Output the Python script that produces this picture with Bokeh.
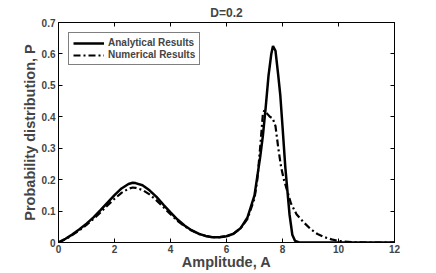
from bokeh.plotting import figure
from bokeh.models import LinearAxis, Legend, LegendItem, FixedTicker, Range1d, Title
from bokeh.embed import file_html
from bokeh.resources import INLINE

# Analytical results
a_x = [0, 0.25, 0.5, 0.75, 1, 1.25, 1.5, 1.75, 2, 2.25, 2.5, 2.65, 2.75, 3, 3.25, 3.5, 3.75, 4,
       4.25, 4.5, 4.75, 5, 5.25, 5.5, 5.75, 6, 6.25, 6.5, 6.75, 7.0, 7.2, 7.3, 7.4, 7.5, 7.6,
       7.66, 7.75, 7.85, 7.92, 8.0, 8.1, 8.15, 8.25, 8.35, 8.45, 8.6, 9, 10, 11, 12]
a_y = [0, 0.012, 0.026, 0.042, 0.06, 0.08, 0.103, 0.127, 0.151, 0.172, 0.186, 0.19, 0.189, 0.182,
       0.166, 0.145, 0.12, 0.096, 0.073, 0.054, 0.039, 0.028, 0.021, 0.017, 0.017, 0.02, 0.028,
       0.045, 0.08, 0.15, 0.27, 0.34, 0.43, 0.53, 0.6, 0.625, 0.61, 0.53, 0.47, 0.37, 0.24, 0.19,
       0.09, 0.025, 0.005, 0, 0, 0, 0, 0]

# Numerical results
n_x = [0, 0.25, 0.5, 0.75, 1, 1.25, 1.5, 1.75, 2, 2.25, 2.5, 2.65, 2.75, 3, 3.25, 3.5, 3.75, 4,
       4.25, 4.5, 4.75, 5, 5.25, 5.5, 5.75, 6, 6.25, 6.5, 6.75, 7.0, 7.1, 7.2, 7.3, 7.35, 7.45,
       7.55, 7.65, 7.75, 7.85, 7.95, 8.05, 8.15, 8.3, 8.5, 8.75, 9, 9.25, 9.5, 9.75, 10, 10.5,
       11, 12]
n_y = [0, 0.011, 0.024, 0.039, 0.056, 0.075, 0.096, 0.118, 0.139, 0.158, 0.171, 0.175, 0.174,
       0.167, 0.153, 0.134, 0.112, 0.09, 0.069, 0.052, 0.038, 0.028, 0.021, 0.017, 0.017, 0.02,
       0.028, 0.045, 0.075, 0.14, 0.2, 0.3, 0.41, 0.42, 0.41, 0.4, 0.395, 0.37, 0.3, 0.24, 0.2,
       0.17, 0.125, 0.09, 0.065, 0.043, 0.027, 0.017, 0.01, 0.005, 0.001, 0, 0]

x_ticks = [0, 2, 4, 6, 8, 10, 12]
y_ticks = [0, 0.1, 0.2, 0.3, 0.4, 0.5, 0.6, 0.7]

FONT = "Liberation Sans"

p = figure(frame_width=336, frame_height=220, output_backend="svg", toolbar_location=None,
           x_range=Range1d(0, 12), y_range=Range1d(0, 0.7),
           min_border_left=58, min_border_right=20, min_border_top=22, min_border_bottom=5)
p.title = Title(text="D=0.2", align="center", text_font=FONT, text_font_style="bold",
                text_font_size="12px", offset=0, standoff=5)
p.grid.visible = False
p.outline_line_color = "black"
p.outline_line_width = 1
p.background_fill_color = "white"
p.border_fill_color = "white"

for ax in [p.xaxis[0], p.yaxis[0]]:
    ax.major_tick_in = 4
    ax.major_tick_out = 0
    ax.minor_tick_in = 0
    ax.minor_tick_out = 0
    ax.major_label_text_font = FONT
    ax.major_label_text_font_style = "bold"
    ax.major_label_text_font_size = "10px"
    ax.axis_label_text_font = FONT
    ax.axis_label_text_font_style = "bold"
    ax.axis_label_text_font_size = "14.5px"
    ax.axis_line_color = "black"
    ax.major_label_standoff = 3
    ax.axis_label_standoff = 1

p.xaxis[0].major_label_standoff = 2
p.xaxis[0].axis_label_standoff = -2

p.xaxis[0].ticker = FixedTicker(ticks=x_ticks)
p.yaxis[0].ticker = FixedTicker(ticks=y_ticks)
p.xaxis[0].axis_label = "Amplitude, A"
p.yaxis[0].axis_label = "Probability distribution, P"
p.xaxis[0].major_label_overrides = {t: str(t) for t in x_ticks}
p.yaxis[0].major_label_overrides = {t: ("0" if t == 0 else f"{t:.1f}") for t in y_ticks}

top_ax = LinearAxis(ticker=FixedTicker(ticks=x_ticks), major_label_text_color=None,
                    major_tick_in=4, major_tick_out=0, minor_tick_in=0, minor_tick_out=0,
                    major_label_standoff=0, major_label_text_font_size="1px")
right_ax = LinearAxis(ticker=FixedTicker(ticks=y_ticks), major_label_text_color=None,
                      major_tick_in=4, major_tick_out=0, minor_tick_in=0, minor_tick_out=0,
                      major_label_standoff=0, major_label_text_font_size="1px")
p.add_layout(top_ax, "above")
p.add_layout(right_ax, "right")

r1 = p.line(a_x, a_y, line_color="black", line_width=2.5)
r2 = p.line(n_x, n_y, line_color="black", line_width=2.2, line_dash="7 3 2 3")

legend = Legend(items=[LegendItem(label="Analytical Results", renderers=[r1]),
                       LegendItem(label="Numerical Results", renderers=[r2])],
                location="top_left", label_text_font=FONT, label_text_font_style="bold",
                label_text_font_size="10px", glyph_width=31, glyph_height=10,
                label_height=10, spacing=1, padding=4, margin=10,
                border_line_color="black", border_line_width=1, label_standoff=4)
p.add_layout(legend)

open("out.html", "w").write(file_html(p, INLINE))
